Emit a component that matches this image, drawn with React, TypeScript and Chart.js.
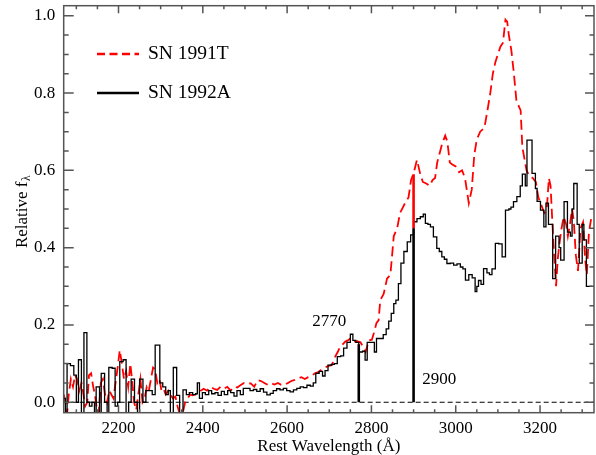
import { useEffect, useRef } from 'react';
import { Chart, registerables } from 'chart.js';

Chart.register(...registerables);

// SN 1992A: binned spectrum, each wavelength is the left edge of a bin
const sn1992aWave = [
  2070, 2074, 2078, 2086, 2094, 2100, 2105, 2112, 2118, 2125, 2131, 2137, 2143, 2147, 2155, 2159,
  2167, 2173, 2177, 2185, 2192, 2198, 2203, 2211, 2218, 2224, 2230, 2238, 2245, 2250, 2258, 2265,
  2272, 2280, 2287, 2298, 2305, 2312, 2318, 2323, 2330, 2338, 2345, 2353, 2361, 2368, 2376, 2383,
  2387, 2392, 2399, 2406, 2414, 2421, 2429, 2436, 2444, 2451, 2459, 2466, 2474, 2481, 2489, 2496,
  2504, 2512, 2520, 2528, 2536, 2544, 2552, 2560, 2567, 2575, 2583, 2591, 2599, 2607, 2615, 2623,
  2631, 2639, 2647, 2655, 2662, 2668, 2676, 2684, 2690, 2697, 2705, 2712, 2719, 2727, 2734, 2742,
  2750, 2756, 2763, 2770, 2779, 2785, 2790, 2798, 2807, 2812, 2820, 2828, 2835, 2841, 2847, 2853,
  2858, 2864, 2870, 2877, 2885, 2893, 2900, 2908, 2916, 2923, 2928, 2934, 2940, 2947, 2955, 2961,
  2967, 2973, 2979, 2987, 2995, 3003, 3011, 3017, 3023, 3031, 3039, 3046, 3050, 3054, 3060, 3066,
  3074, 3080, 3086, 3094, 3102, 3110, 3118, 3126, 3131, 3137, 3145, 3153, 3158, 3165, 3169, 3181,
  3189, 3193, 3201, 3209, 3214, 3220, 3230, 3237, 3245, 3249, 3257, 3265, 3272, 3276, 3280, 3288,
  3293, 3300, 3304, 3310, 3318,
];
const sn1992aFlux = [
  0.01, -0.03, 0.1, 0.095, 0.07, 0.0, 0.11, -0.03, 0.18, 0.0, -0.01, 0.0, -0.03, 0.04, -0.03, 0.075,
  0.0, -0.03, 0.09, 0.088, -0.01, 0.0, 0.105, 0.11, -0.03, 0.0, 0.06, 0.0, -0.03, 0.06, 0.0, 0.03,
  0.03, 0.02, 0.148, 0.05, 0.04, 0.02, 0.03, -0.03, 0.09, 0.018, -0.03, 0.032, 0.02, 0.025, 0.02, 0.022,
  0.05, 0.01, 0.025, 0.02, 0.03, 0.022, 0.025, 0.018, 0.028, 0.02, 0.03, 0.025, 0.016, 0.03, 0.02, 0.036,
  0.036, 0.03, 0.033, 0.028, 0.035, 0.026, 0.019, 0.023, 0.03, 0.035, 0.032, 0.036, 0.03, 0.027, 0.032, 0.036,
  0.04, 0.038, 0.044, 0.042, 0.05, 0.075, 0.08, 0.068, 0.082, 0.096, 0.098, 0.1, 0.118, 0.12, 0.14, 0.155,
  0.176, 0.16, 0.155, 0.13, 0.132, 0.109, 0.155, 0.155, 0.13, 0.165, 0.165, 0.175, 0.19, 0.21, 0.23, 0.255,
  0.264, 0.307, 0.36, 0.39, 0.415, 0.433, 0.467, 0.475, 0.48, 0.487, 0.463, 0.46, 0.454, 0.428, 0.398, 0.39,
  0.376, 0.37, 0.359, 0.36, 0.355, 0.358, 0.35, 0.345, 0.316, 0.33, 0.322, 0.286, 0.3, 0.315, 0.305, 0.346,
  0.335, 0.33, 0.345, 0.411, 0.41, 0.376, 0.497, 0.5, 0.505, 0.519, 0.532, 0.56, 0.59, 0.56, 0.678, 0.592,
  0.553, 0.52, 0.497, 0.454, 0.515, 0.46, 0.32, 0.43, 0.4, 0.368, 0.519, 0.44, 0.43, 0.5, 0.566, 0.46,
  0.36, 0.46, 0.42, 0.3, 0.3,
];

// SN 1991T: sampled spectrum
const sn1991tWave = [
  2070, 2074, 2078, 2082, 2087, 2092, 2097, 2102, 2107, 2112, 2117, 2121, 2126, 2130, 2135, 2140,
  2144, 2149, 2153, 2158, 2163, 2168, 2173, 2178, 2183, 2188, 2193, 2198, 2203, 2208, 2213, 2218,
  2223, 2228, 2232, 2237, 2242, 2247, 2252, 2257, 2262, 2267, 2272, 2277, 2282, 2287, 2292, 2297,
  2302, 2307, 2312, 2318, 2323, 2329, 2335, 2340, 2345, 2352, 2358, 2364, 2370, 2376, 2382, 2388,
  2395, 2402, 2410, 2418, 2426, 2434, 2442, 2450, 2458, 2466, 2474, 2482, 2490, 2498, 2506, 2514,
  2522, 2530, 2538, 2546, 2554, 2562, 2570, 2578, 2586, 2594, 2602, 2610, 2618, 2626, 2634, 2642,
  2650, 2658, 2666, 2674, 2682, 2690, 2698, 2706, 2714, 2720, 2726, 2732, 2738, 2744, 2750, 2758,
  2766, 2774, 2780, 2786, 2794, 2801, 2806, 2812, 2817, 2821, 2829, 2837, 2845, 2853, 2861, 2868,
  2875, 2882, 2888, 2894, 2900, 2908, 2916, 2922, 2930, 2938, 2945, 2951, 2956, 2962, 2968, 2975,
  2980, 2986, 2992, 3000, 3008, 3015, 3022, 3031, 3038, 3044, 3050, 3058, 3068, 3076, 3082, 3088,
  3094, 3100, 3106, 3112, 3118, 3122, 3126, 3132, 3138, 3144, 3150, 3154, 3158, 3163, 3168, 3175,
  3183, 3190, 3196, 3203, 3210, 3216, 3221, 3225, 3229, 3233, 3238, 3242, 3246, 3251, 3256, 3262,
  3266, 3271, 3276, 3280, 3285, 3290, 3296, 3302, 3307, 3311, 3316, 3322,
];
const sn1991tFlux = [
  0.02, 0.0, -0.03, 0.02, 0.06, 0.04, 0.07, 0.06, 0.03, 0.05, 0.02, -0.01, 0.0, 0.07, 0.075, 0.04,
  0.02, -0.02, -0.03, 0.05, 0.06, 0.02, 0.0, 0.03, 0.02, 0.01, 0.05, 0.09, 0.135, 0.1, 0.06, 0.08,
  0.04, 0.1, 0.06, 0.0, -0.02, 0.02, 0.06, 0.0, 0.01, 0.04, 0.03, 0.06, 0.09, 0.085, 0.05, 0.06,
  0.03, 0.035, 0.02, 0.03, 0.02, 0.01, 0.015, -0.01, -0.03, -0.03, 0.0, 0.01, 0.02, 0.018, 0.02, 0.025,
  0.03, 0.035, 0.03, 0.04, 0.035, 0.032, 0.04, 0.035, 0.04, 0.03, 0.04, 0.038, 0.045, 0.05, 0.048, 0.049,
  0.04, 0.057, 0.055, 0.05, 0.045, 0.049, 0.046, 0.05, 0.045, 0.045, 0.05, 0.055, 0.058, 0.062, 0.065, 0.06,
  0.065, 0.068, 0.075, 0.078, 0.085, 0.09, 0.094, 0.096, 0.118, 0.13, 0.144, 0.15, 0.157, 0.16, 0.165, 0.157,
  0.158, 0.155, 0.144, 0.13, 0.16, 0.162, 0.18, 0.205, 0.212, 0.264, 0.28, 0.32, 0.33, 0.43, 0.45, 0.49,
  0.505, 0.52, 0.53, 0.575, 0.592, 0.627, 0.59, 0.57, 0.566, 0.56, 0.575, 0.58, 0.62, 0.645, 0.67, 0.69,
  0.675, 0.62, 0.615, 0.61, 0.595, 0.6, 0.58, 0.515, 0.55, 0.64, 0.68, 0.7, 0.71, 0.76, 0.8, 0.85,
  0.88, 0.9, 0.92, 0.93, 0.99, 0.985, 0.95, 0.91, 0.85, 0.78, 0.765, 0.755, 0.66, 0.63, 0.6, 0.585,
  0.58, 0.57, 0.53, 0.51, 0.49, 0.5, 0.58, 0.56, 0.47, 0.39, 0.3, 0.37, 0.41, 0.45, 0.48, 0.46,
  0.43, 0.46, 0.5, 0.47, 0.38, 0.34, 0.45, 0.466, 0.37, 0.33, 0.44, 0.48,
];

// Marked wavelengths and the heights of their marker lines
const markerWave = [2770, 2900];
const markerLabels = ['2770', '2900'];
const markerBlackTop = [0.15, 0.45];
const markerRedTop = [0.15, 0.59];

const xTickValues = [2200, 2400, 2600, 2800, 3000, 3200];
const yTickValues = [0, 0.2, 0.4, 0.6, 0.8, 1.0];

const X_MIN = 2070;
const X_MAX = 3328;
const Y_MIN = -0.027;
const Y_MAX = 1.026;

const SERIF = "'Liberation Serif', 'Times New Roman', serif";
const RED = '#ff0000';
const AXIS = '#555555';

const toPoints = (xs: number[], ys: number[]) => xs.map((x, i) => ({ x, y: ys[i] }));

const frameAndTicks = {
  id: 'frameAndTicks',
  afterDatasetsDraw(chart: any) {
    const { ctx, chartArea: a, scales } = chart;
    const xs = scales.x;
    const ys = scales.y;
    ctx.save();
    ctx.strokeStyle = AXIS;
    ctx.lineWidth = 1.5;
    ctx.strokeRect(a.left, a.top, a.right - a.left, a.bottom - a.top);
    ctx.beginPath();
    for (let v = 2100; v <= 3300; v += 50) {
      const major = v % 200 === 0;
      const len = major ? 7.5 : 3.5;
      const px = xs.getPixelForValue(v);
      ctx.moveTo(px, a.bottom);
      ctx.lineTo(px, a.bottom - len);
      ctx.moveTo(px, a.top);
      ctx.lineTo(px, a.top + len);
    }
    for (let i = 0; i <= 20; i++) {
      const major = i % 4 === 0;
      const py = ys.getPixelForValue(i * 0.05);
      ctx.moveTo(a.left, py);
      ctx.lineTo(a.left + (major ? 10 : 5), py);
      ctx.moveTo(a.right, py);
      ctx.lineTo(a.right - (major ? 9 : 4.5), py);
    }
    ctx.stroke();
    ctx.restore();
  },
};

const textLayer = {
  id: 'textLayer',
  afterDraw(chart: any) {
    const { ctx, chartArea: a, scales } = chart;
    const xs = scales.x;
    const ys = scales.y;
    ctx.save();

    // legend
    const legendItems = [
      { label: 'SN 1991T', color: RED, dash: [8, 4.5], y: a.top + 48.3 },
      { label: 'SN 1992A', color: '#000000', dash: [], y: a.top + 87.3 },
    ];
    const lx0 = a.left + 33.3;
    const lx1 = a.left + 75.3;
    for (const it of legendItems) {
      ctx.beginPath();
      ctx.setLineDash(it.dash);
      ctx.strokeStyle = it.color;
      ctx.lineWidth = 2.6;
      ctx.moveTo(lx0, it.y);
      ctx.lineTo(lx1, it.y);
      ctx.stroke();
      ctx.setLineDash([]);
      ctx.fillStyle = '#000';
      ctx.font = `19.5px ${SERIF}`;
      ctx.textAlign = 'left';
      ctx.textBaseline = 'middle';
      ctx.fillText(it.label, a.left + 84.3, it.y);
    }

    // wavelength labels next to the marker lines
    ctx.font = `17px ${SERIF}`;
    ctx.textAlign = 'center';
    ctx.textBaseline = 'middle';
    ctx.fillStyle = '#000';
    const labelAt = [
      { x: 2700, y: 0.208 },
      { x: 2961, y: 0.06 },
    ];
    markerLabels.forEach((t, i) => {
      ctx.fillText(t, xs.getPixelForValue(labelAt[i].x), ys.getPixelForValue(labelAt[i].y));
    });

    // y axis title with subscript lambda
    ctx.translate(26.5, 212);
    ctx.rotate(-Math.PI / 2);
    ctx.font = `17px ${SERIF}`;
    ctx.textBaseline = 'alphabetic';
    ctx.textAlign = 'left';
    const main = 'Relative f';
    const mw = ctx.measureText(main).width;
    ctx.font = `11.5px ${SERIF}`;
    const sw = ctx.measureText('λ').width;
    const start = -(mw + sw) / 2;
    ctx.font = `17px ${SERIF}`;
    ctx.fillText(main, start, 0);
    ctx.font = `11.5px ${SERIF}`;
    ctx.fillText('λ', start + mw + 0.5, 3.5);
    ctx.restore();
  },
};

export default function App() {
  const canvasRef = useRef<HTMLCanvasElement | null>(null);

  useEffect(() => {
    const canvas = canvasRef.current;
    if (!canvas) return;

    const blackPts = toPoints(sn1992aWave, sn1992aFlux);
    // close the last bin
    blackPts.push({ x: 3324, y: sn1992aFlux[sn1992aFlux.length - 1] });

    const datasets: any[] = [
      {
        label: 'zero',
        data: [
          { x: X_MIN, y: 0 },
          { x: X_MAX, y: 0 },
        ],
        borderColor: '#000',
        borderWidth: 1,
        borderDash: [5, 3],
        pointRadius: 0,
        order: 5,
      },
      {
        label: 'SN 1991T',
        data: toPoints(sn1991tWave, sn1991tFlux),
        borderColor: RED,
        borderWidth: 1.8,
        borderDash: [10, 5],
        pointRadius: 0,
        tension: 0,
        order: 3,
      },
      {
        label: 'SN 1992A',
        data: blackPts,
        borderColor: '#000',
        borderWidth: 1.3,
        stepped: true,
        pointRadius: 0,
        order: 2,
      },
    ];

    markerWave.forEach((w, i) => {
      if (markerRedTop[i] > markerBlackTop[i]) {
        datasets.push({
          label: `marker-red-${i}`,
          data: [
            { x: w, y: markerBlackTop[i] },
            { x: w, y: markerRedTop[i] },
          ],
          borderColor: RED,
          borderWidth: 2.6,
          pointRadius: 0,
          order: 1,
        });
      }
      datasets.push({
        label: `marker-${i}`,
        data: [
          { x: w, y: 0 },
          { x: w, y: markerBlackTop[i] },
        ],
        borderColor: '#000',
        borderWidth: 2.6,
        pointRadius: 0,
        order: 1,
      });
    });

    datasets.forEach((d) => {
      d.fill = false;
      d.clip = 0;
      d.borderCapStyle = 'butt';
    });

    const chart = new Chart(canvas, {
      type: 'line',
      data: { datasets },
      options: {
        animation: false,
        responsive: false,
        maintainAspectRatio: false,
        parsing: false as any,
        layout: { padding: { left: 0, right: 2, top: 5.7, bottom: 0 } },
        plugins: {
          legend: { display: false },
          tooltip: { enabled: false },
        },
        scales: {
          x: {
            type: 'linear',
            min: X_MIN,
            max: X_MAX,
            grid: { display: false, drawTicks: false },
            border: { display: false },
            afterBuildTicks: (s: any) => {
              s.ticks = xTickValues.map((value) => ({ value }));
            },
            afterFit: (s: any) => {
              s.height = 42.3;
              s.paddingLeft = 0;
              s.paddingRight = 0;
            },
            ticks: {
              color: '#000',
              padding: 5.4,
              maxRotation: 0,
              autoSkip: false,
              font: { family: SERIF, size: 17 },
              callback: (v: any) => String(v),
            },
            title: {
              display: true,
              text: 'Rest Wavelength (Å)',
              color: '#000',
              font: { family: SERIF, size: 17 },
              padding: { top: 0, bottom: -1.5 },
            },
          },
          y: {
            type: 'linear',
            min: Y_MIN,
            max: Y_MAX,
            grid: { display: false, drawTicks: false },
            border: { display: false },
            afterBuildTicks: (s: any) => {
              s.ticks = yTickValues.map((value) => ({ value }));
            },
            afterFit: (s: any) => {
              s.width = 63.7;
              s.paddingTop = 0;
              s.paddingBottom = 0;
            },
            ticks: {
              color: '#000',
              padding: 8.5,
              autoSkip: false,
              font: { family: SERIF, size: 17 },
              callback: (v: any) => Number(v).toFixed(1),
            },
          },
        },
      },
      plugins: [frameAndTicks, textLayer],
    });

    return () => chart.destroy();
  }, []);

  return (
    <div style={{ position: 'absolute', left: 0, top: 0, width: 596, height: 455, background: '#fff' }}>
      <canvas ref={canvasRef} width={596} height={455} style={{ display: 'block', width: 596, height: 455 }} />
    </div>
  );
}
